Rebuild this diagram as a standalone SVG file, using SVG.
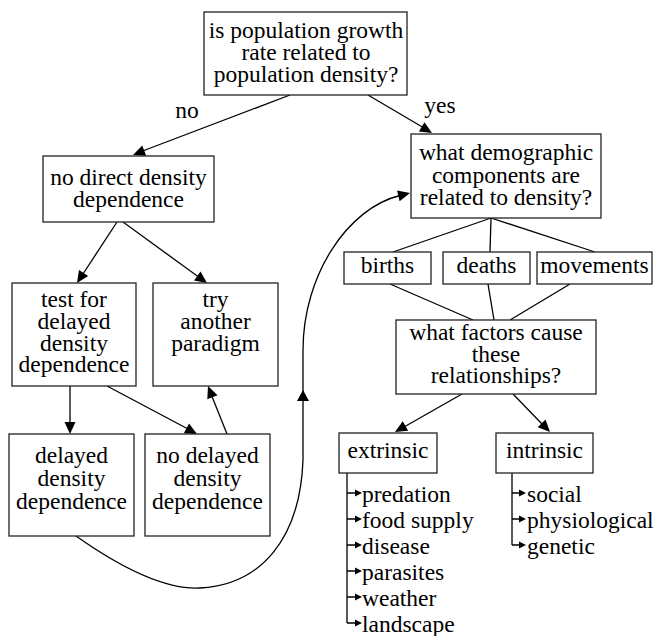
<svg xmlns="http://www.w3.org/2000/svg" width="654" height="636" viewBox="0 0 654 636">
<rect x="0" y="0" width="654" height="636" fill="#fff"/>
<g id="connectors">
<g stroke="#000" stroke-width="1.3" fill="none">
<line x1="290" y1="95" x2="140" y2="152"/>
<line x1="368" y1="95" x2="424" y2="128"/>
<line x1="117" y1="222" x2="81" y2="277"/>
<line x1="123" y1="222" x2="200" y2="278"/>
<line x1="70" y1="386" x2="70" y2="424"/>
<line x1="107" y1="386" x2="188" y2="429"/>
<line x1="227" y1="434" x2="211" y2="394"/>
<path d="M76,536 C110,560 160,590 200,588 C260,585 300,540 303,460 L303,350 C303,275 348,208 400,195.5"/>
<line x1="491" y1="218" x2="393" y2="252"/>
<line x1="491" y1="218" x2="490" y2="252"/>
<line x1="491" y1="218" x2="595" y2="252"/>
<line x1="390" y1="284" x2="473" y2="320"/>
<line x1="488" y1="284" x2="494" y2="320"/>
<line x1="570" y1="284" x2="510" y2="320"/>
<line x1="462" y1="394" x2="404" y2="427"/>
<line x1="513" y1="394" x2="543" y2="425"/>
<path d="M347,473 V623 M347,493 H356 M347,519 H356 M347,545 H356 M347,571 H356 M347,597 H356 M347,623 H356"/>
<path d="M512,473 V545 M512,493 H520 M512,519 H520 M512,545 H520"/>
</g>
<g fill="#000">
<polygon points="133,155 142.25,145.58 146.17,155.86"/>
<polygon points="432,133 418.87,131.6 424.49,122.14"/>
<polygon points="77,283 78.98,269.94 88.18,275.98"/>
<polygon points="207,283 194.06,280.4 200.52,271.5"/>
<polygon points="70,434 64.5,422 75.5,422"/>
<polygon points="197,434 183.82,433.2 189,423.5"/>
<polygon points="208,386 217.53,395.14 207.31,399.18"/>
<polygon points="410,193 399.63,201.17 397.05,190.47"/>
<polygon points="303,390 297,401 309,401"/>
<polygon points="395,432 402.73,421.3 408.15,430.86"/>
<polygon points="550,432 537.69,427.24 545.57,419.56"/>
<polygon points="362,493 355,489.5 355,496.5"/>
<polygon points="362,519 355,515.5 355,522.5"/>
<polygon points="362,545 355,541.5 355,548.5"/>
<polygon points="362,571 355,567.5 355,574.5"/>
<polygon points="362,597 355,593.5 355,600.5"/>
<polygon points="362,623 355,619.5 355,626.5"/>
<polygon points="526,493 519,489.5 519,496.5"/>
<polygon points="526,519 519,515.5 519,522.5"/>
<polygon points="526,545 519,541.5 519,548.5"/>
</g>
<text x="187" y="118" font-family="Liberation Serif" font-size="23.5" text-anchor="middle">no</text>
<text x="440" y="113" font-family="Liberation Serif" font-size="23.5" text-anchor="middle">yes</text>
</g>
<g id="q1"><rect x="204" y="12" width="203" height="83" fill="#fff" stroke="#222" stroke-width="1.3"/>
<text x="306" y="38" font-family="Liberation Serif" font-size="23.5" text-anchor="middle">is population growth</text>
<text x="306" y="60" font-family="Liberation Serif" font-size="23.5" text-anchor="middle">rate related to</text>
<text x="306" y="82" font-family="Liberation Serif" font-size="23.5" text-anchor="middle">population density?</text></g>
<g id="nodirect"><rect x="43" y="156" width="171" height="66" fill="#fff" stroke="#222" stroke-width="1.3"/>
<text x="128.5" y="185" font-family="Liberation Serif" font-size="23.5" text-anchor="middle">no direct density</text>
<text x="128.5" y="207" font-family="Liberation Serif" font-size="23.5" text-anchor="middle">dependence</text></g>
<g id="test"><rect x="12" y="283" width="124" height="103" fill="#fff" stroke="#222" stroke-width="1.3"/>
<text x="74" y="307" font-family="Liberation Serif" font-size="23.5" text-anchor="middle">test for</text>
<text x="74" y="329" font-family="Liberation Serif" font-size="23.5" text-anchor="middle">delayed</text>
<text x="74" y="351" font-family="Liberation Serif" font-size="23.5" text-anchor="middle">density</text>
<text x="74" y="372" font-family="Liberation Serif" font-size="23.5" text-anchor="middle">dependence</text></g>
<g id="try"><rect x="153" y="283" width="125" height="103" fill="#fff" stroke="#222" stroke-width="1.3"/>
<text x="215.5" y="307" font-family="Liberation Serif" font-size="23.5" text-anchor="middle">try</text>
<text x="215.5" y="329" font-family="Liberation Serif" font-size="23.5" text-anchor="middle">another</text>
<text x="215.5" y="351" font-family="Liberation Serif" font-size="23.5" text-anchor="middle">paradigm</text></g>
<g id="delayed"><rect x="9" y="434" width="125" height="102" fill="#fff" stroke="#222" stroke-width="1.3"/>
<text x="71.5" y="463" font-family="Liberation Serif" font-size="23.5" text-anchor="middle">delayed</text>
<text x="71.5" y="486" font-family="Liberation Serif" font-size="23.5" text-anchor="middle">density</text>
<text x="71.5" y="509" font-family="Liberation Serif" font-size="23.5" text-anchor="middle">dependence</text></g>
<g id="nodelayed"><rect x="145" y="434" width="125" height="102" fill="#fff" stroke="#222" stroke-width="1.3"/>
<text x="207.5" y="463" font-family="Liberation Serif" font-size="23.5" text-anchor="middle">no delayed</text>
<text x="207.5" y="486" font-family="Liberation Serif" font-size="23.5" text-anchor="middle">density</text>
<text x="207.5" y="509" font-family="Liberation Serif" font-size="23.5" text-anchor="middle">dependence</text></g>
<g id="q2"><rect x="411" y="134" width="190" height="84" fill="#fff" stroke="#222" stroke-width="1.3"/>
<text x="506" y="160" font-family="Liberation Serif" font-size="23.5" text-anchor="middle">what demographic</text>
<text x="506" y="183" font-family="Liberation Serif" font-size="23.5" text-anchor="middle">components are</text>
<text x="506" y="205" font-family="Liberation Serif" font-size="23.5" text-anchor="middle">related to density?</text></g>
<g id="births"><rect x="344" y="252" width="87" height="32" fill="#fff" stroke="#222" stroke-width="1.3"/>
<text x="387.5" y="273" font-family="Liberation Serif" font-size="23.5" text-anchor="middle">births</text></g>
<g id="deaths"><rect x="443" y="252" width="87" height="32" fill="#fff" stroke="#222" stroke-width="1.3"/>
<text x="486.5" y="273" font-family="Liberation Serif" font-size="23.5" text-anchor="middle">deaths</text></g>
<g id="movements"><rect x="537" y="252" width="115" height="32" fill="#fff" stroke="#222" stroke-width="1.3"/>
<text x="594.5" y="273" font-family="Liberation Serif" font-size="23.5" text-anchor="middle">movements</text></g>
<g id="q3"><rect x="396" y="320" width="200" height="74" fill="#fff" stroke="#222" stroke-width="1.3"/>
<text x="496" y="340" font-family="Liberation Serif" font-size="23.5" text-anchor="middle">what factors cause</text>
<text x="496" y="362" font-family="Liberation Serif" font-size="23.5" text-anchor="middle">these</text>
<text x="496" y="383" font-family="Liberation Serif" font-size="23.5" text-anchor="middle">relationships?</text></g>
<g id="extrinsic"><rect x="339" y="433" width="98" height="40" fill="#fff" stroke="#222" stroke-width="1.3"/>
<text x="388" y="458" font-family="Liberation Serif" font-size="23.5" text-anchor="middle">extrinsic</text>
<text x="362" y="502" font-family="Liberation Serif" font-size="23.5">predation</text>
<text x="362" y="528" font-family="Liberation Serif" font-size="23.5">food supply</text>
<text x="362" y="554" font-family="Liberation Serif" font-size="23.5">disease</text>
<text x="362" y="580" font-family="Liberation Serif" font-size="23.5">parasites</text>
<text x="362" y="606" font-family="Liberation Serif" font-size="23.5">weather</text>
<text x="362" y="632" font-family="Liberation Serif" font-size="23.5">landscape</text></g>
<g id="intrinsic"><rect x="496" y="433" width="97" height="40" fill="#fff" stroke="#222" stroke-width="1.3"/>
<text x="544.5" y="458" font-family="Liberation Serif" font-size="23.5" text-anchor="middle">intrinsic</text>
<text x="527" y="502" font-family="Liberation Serif" font-size="23.5">social</text>
<text x="527" y="528" font-family="Liberation Serif" font-size="23.5">physiological</text>
<text x="527" y="554" font-family="Liberation Serif" font-size="23.5">genetic</text></g>
</svg>
